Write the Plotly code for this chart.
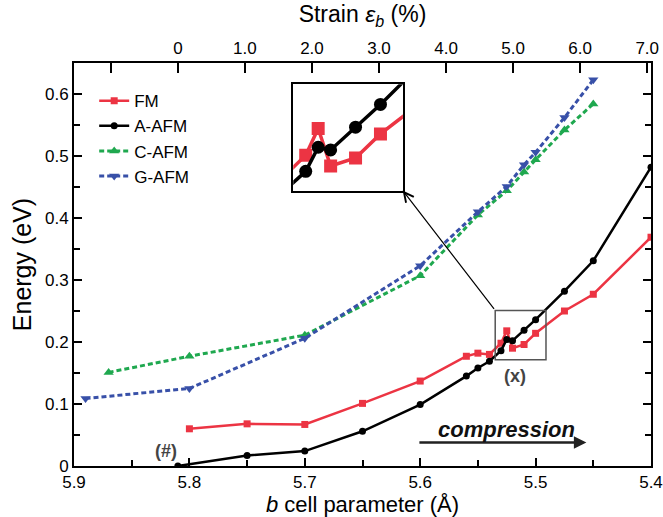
import plotly.graph_objects as go

# ---------------- data ----------------
b_fm = [5.80, 5.75, 5.70, 5.65, 5.60, 5.56, 5.55, 5.54, 5.53, 5.525, 5.52, 5.51, 5.50, 5.475, 5.45, 5.40]
e_fm = [0.060, 0.068, 0.067, 0.101, 0.137, 0.177, 0.182, 0.180, 0.198, 0.218, 0.190, 0.196, 0.214, 0.250, 0.277, 0.369]

b_a = [5.81, 5.75, 5.70, 5.65, 5.60, 5.56, 5.55, 5.54, 5.53, 5.525, 5.52, 5.51, 5.50, 5.475, 5.45, 5.40]
e_a = [0.000, 0.017, 0.024, 0.056, 0.099, 0.145, 0.158, 0.169, 0.186, 0.204, 0.202, 0.219, 0.236, 0.282, 0.331, 0.482]

b_c = [5.87, 5.80, 5.70, 5.60, 5.55, 5.525, 5.51, 5.50, 5.475, 5.45]
e_c = [0.151, 0.177, 0.211, 0.307, 0.405, 0.444, 0.474, 0.494, 0.542, 0.584]

b_g = [5.89, 5.80, 5.70, 5.60, 5.55, 5.525, 5.51, 5.50, 5.475, 5.45]
e_g = [0.109, 0.125, 0.206, 0.323, 0.410, 0.451, 0.486, 0.506, 0.562, 0.623]

b0 = 5.81                      # reference (unstrained) b parameter
b_range = [5.9, 5.4]
e_range = [0.0, 0.65]
strain_ticks = [-1, 0, 1, 2, 3, 4, 5, 6, 7]
strain_labels = ["", "0", "1.0", "2.0", "3.0", "4.0", "5.0", "6.0", "7.0"]

# zoom window (inset)
zoom_b = [5.535, 5.491]
zoom_e = [0.1715, 0.251]

def strain(b):
    return (b0 - b) / b0 * 100.0

RED = "#EC3443"
BLACK = "#000000"
GREEN = "#1FA84F"
BLUE = "#3850A8"
FONT = "Liberation Sans, Arial, sans-serif"

fig = go.Figure()

fig.add_trace(go.Scatter(x=b_fm, y=e_fm, mode="lines+markers", name="FM",
                         line=dict(color=RED, width=2.5),
                         marker=dict(symbol="square", size=7, color=RED)))
fig.add_trace(go.Scatter(x=b_a, y=e_a, mode="lines+markers", name="A-AFM",
                         line=dict(color=BLACK, width=2.5),
                         marker=dict(symbol="circle", size=7, color=BLACK)))
fig.add_trace(go.Scatter(x=b_c, y=e_c, mode="lines+markers", name="C-AFM",
                         line=dict(color=GREEN, width=3, dash="5px,3px"),
                         marker=dict(symbol="triangle-up", size=9, color=GREEN)))
fig.add_trace(go.Scatter(x=b_g, y=e_g, mode="lines+markers", name="G-AFM",
                         line=dict(color=BLUE, width=3, dash="5px,3px"),
                         marker=dict(symbol="triangle-down", size=9, color=BLUE)))

# invisible trace on the strain axis so it is drawn
fig.add_trace(go.Scatter(x=[strain(v) for v in b_a], y=e_a, xaxis="x2", yaxis="y",
                         mode="markers", marker=dict(opacity=0), showlegend=False,
                         hoverinfo="skip"))

# inset traces
fig.add_trace(go.Scatter(x=b_fm, y=e_fm, xaxis="x3", yaxis="y3", mode="lines+markers",
                         line=dict(color=RED, width=3.5),
                         marker=dict(symbol="square", size=13, color=RED),
                         showlegend=False))
fig.add_trace(go.Scatter(x=b_a, y=e_a, xaxis="x3", yaxis="y3", mode="lines+markers",
                         line=dict(color=BLACK, width=3.5),
                         marker=dict(symbol="circle", size=13, color=BLACK),
                         showlegend=False))

axis_common = dict(showgrid=False, zeroline=False, showline=True, linecolor="black",
                   linewidth=2, ticks="inside", tickcolor="black", tickwidth=1.5,
                   automargin=False,
                   tickfont=dict(family=FONT, size=17, color="black"))

fig.update_layout(
    width=663, height=517,
    margin=dict(l=74, r=12, t=63, b=51),
    paper_bgcolor="white", plot_bgcolor="white",
    font=dict(family=FONT, color="black"),
    xaxis=dict(range=b_range, dtick=0.1, tick0=5.4, ticklen=8,
               minor=dict(dtick=0.05, tick0=5.4, ticks="inside", ticklen=6,
                          tickcolor="black", tickwidth=1.5),
               title=dict(text="<i>b</i> cell parameter (Å)", font=dict(size=22), standoff=9),
               mirror=False, **axis_common),
    yaxis=dict(range=e_range, dtick=0.1, tick0=0, ticklen=8,
               minor=dict(dtick=0.05, ticks="inside", ticklen=6,
                          tickcolor="black", tickwidth=1.5),
               title=dict(text="Energy (eV)", font=dict(size=25), standoff=6),
               mirror="ticks", **axis_common),
    xaxis2=dict(overlaying="x", side="top", anchor="y",
                range=[strain(b_range[0]), strain(b_range[1])],
                tickmode="array", tickvals=strain_ticks, ticktext=strain_labels,
                ticklen=10,
                title=dict(text="Strain <i>ε<sub>b</sub></i> (%)", font=dict(size=23), standoff=10),
                **axis_common),
    xaxis3=dict(domain=[0.380, 0.570], anchor="y3", range=zoom_b,
                showgrid=False, zeroline=False, showline=True, mirror=True,
                linecolor="black", linewidth=1.5, showticklabels=False, ticks=""),
    yaxis3=dict(domain=[0.683, 0.947], anchor="x3", range=zoom_e,
                showgrid=False, zeroline=False, showline=True, mirror=True,
                linecolor="black", linewidth=1.5, showticklabels=False, ticks=""),
    legend=dict(x=0.035, y=0.95, xanchor="left", yanchor="top",
                bgcolor="rgba(0,0,0,0)", font=dict(family=FONT, size=17, color="black"),
                tracegroupgap=0, itemwidth=30),
    showlegend=True,
)

# zoom box in main axes
fig.add_shape(type="rect", xref="x", yref="y", x0=zoom_b[0], x1=zoom_b[1],
              y0=zoom_e[0], y1=zoom_e[1], line=dict(color="#555555", width=1.5))

# connector from zoom box to inset corner
fig.add_annotation(x=5.6152, y=0.4445, xref="x", yref="y",
                   ax=zoom_b[0], ay=zoom_e[1], axref="x", ayref="y",
                   text="", showarrow=True, arrowhead=5, arrowsize=1.6,
                   arrowwidth=1.2, arrowcolor="black", standoff=0)

# compression arrow
fig.add_annotation(x=5.456, y=0.038, xref="x", yref="y",
                   ax=5.602, ay=0.038, axref="x", ayref="y",
                   text="", showarrow=True, arrowhead=2, arrowsize=1.0,
                   arrowwidth=2.5, arrowcolor="#222222", standoff=0)
fig.add_annotation(x=5.525, y=0.0585, xref="x", yref="y", text="<b><i>compression</i></b>",
                   showarrow=False, font=dict(family=FONT, size=22, color="#111111"))

fig.add_annotation(x=5.5175, y=0.1445, xref="x", yref="y", text="<b>(x)</b>",
                   showarrow=False, font=dict(family=FONT, size=18, color="#444444"))
fig.add_annotation(x=5.820, y=0.0235, xref="x", yref="y", text="<b>(#)</b>",
                   showarrow=False, font=dict(family=FONT, size=18, color="#444444"))

fig.write_html("out.html")
